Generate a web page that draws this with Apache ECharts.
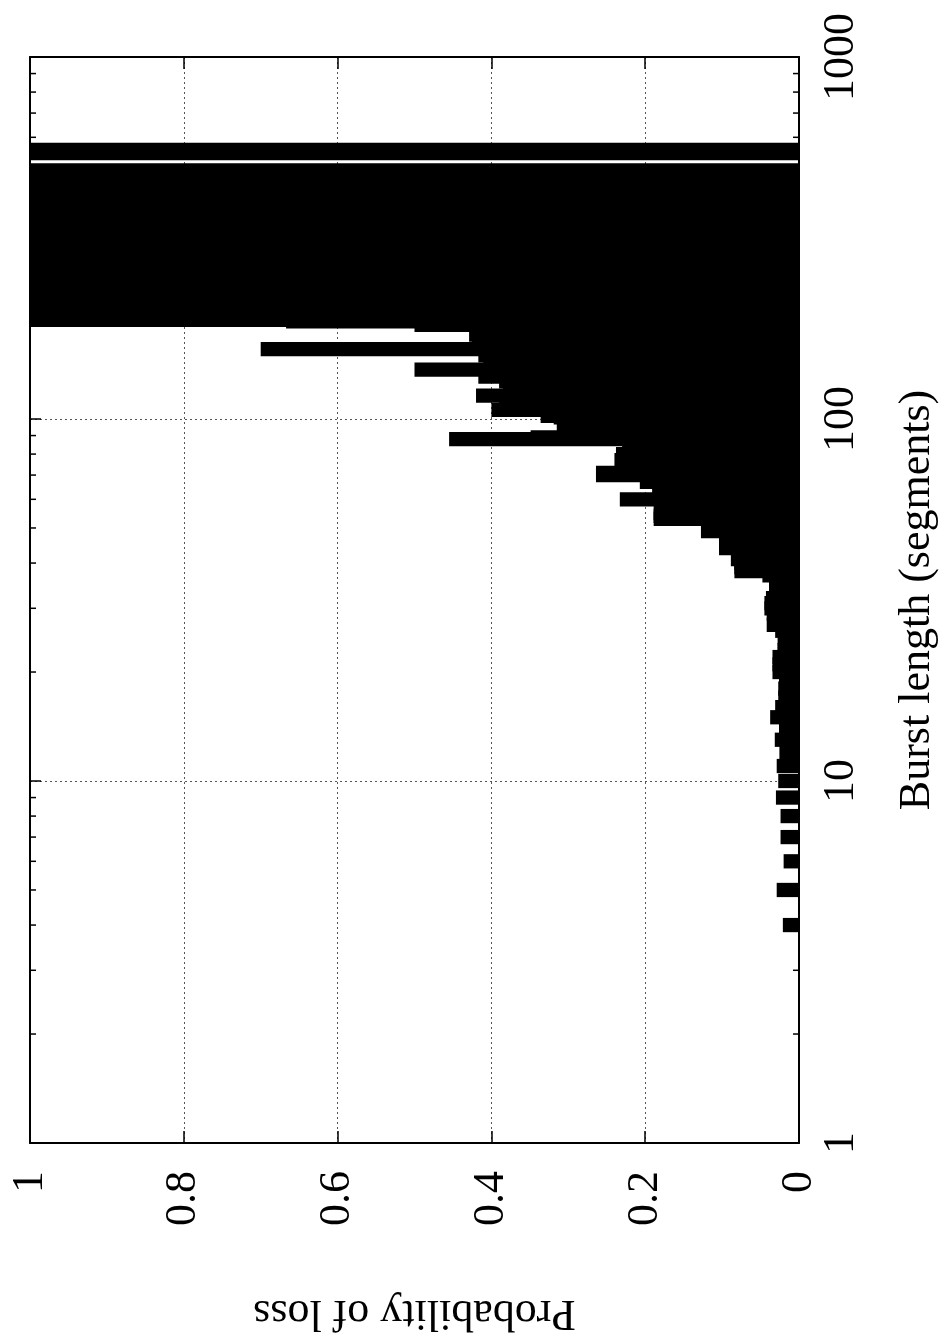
<!DOCTYPE html>
<html>
<head>
<meta charset="utf-8">
<script src="https://cdn.jsdelivr.net/npm/echarts@6/dist/echarts.min.js"></script>
<style>
  html, body { margin: 0; padding: 0; background: #fff; }
  #chart-div { width: 939px; height: 1343px; }
</style>
</head>
<body>
<div id="chart-div"></div>
<script>
// burst lengths (segments) and the probability of loss
const burstLength = [
    4, 5, 6, 7, 8, 9, 10, 11, 12, 13, 14, 15, 16, 17, 18, 19, 20,
    21, 22, 23, 24, 25, 26, 27, 28, 29, 30, 31, 32, 33, 34, 35, 36, 37, 38, 39, 40,
    41, 42, 43, 44, 45, 46, 47, 48, 49, 50, 51, 52, 53, 54, 55, 56, 57, 58, 59, 60,
    61, 62, 63, 64, 65, 66, 67, 68, 69, 70, 71, 72, 73, 74, 75, 76, 77, 78, 79, 80,
    81, 82, 83, 84, 85, 86, 87, 88, 89, 90, 91, 92, 93, 94, 95, 96, 97, 98, 99, 100,
    101, 102, 103, 104, 105, 106, 107, 108, 109, 110, 111, 112, 113, 114, 115, 116, 117, 118, 119, 120,
    121, 122, 123, 124, 125, 126, 127, 128, 129, 130, 131, 132, 133, 134, 135, 136, 137, 138, 139, 140,
    141, 142, 143, 144, 145, 146, 147, 148, 149, 150, 151, 152, 153, 154, 155, 156, 157, 158, 159, 160,
    161, 162, 163, 164, 165, 166, 167, 168, 169, 170, 171, 172, 173, 174, 175, 176, 177, 178, 179, 180,
    181, 182, 183, 184, 185, 186, 187, 188, 189, 190,
    195, 200, 205, 212, 220, 228, 236, 245, 255, 265, 276, 288, 300, 312, 325, 338,
    352, 366, 381, 396, 412, 428, 445, 463, 486, 543, 554
]
const lossProb = [
    0.021, 0.029, 0.020, 0.024, 0.024, 0.030, 0.027, 0.029, 0.0255, 0.0315, 0.026, 0.0375, 0.031, 0.027, 0.027, 0.026, 0.0345,
    0.0345, 0.0345, 0.028, 0.0276, 0.0276, 0.031, 0.042, 0.040, 0.042, 0.045, 0.045, 0.043, 0.039, 0.039, 0.038, 0.039, 0.0476, 0.084, 0.084, 0.084,
    0.0886, 0.085, 0.086, 0.104, 0.104, 0.100, 0.100, 0.104, 0.1275, 0.125, 0.120, 0.125, 0.189, 0.189, 0.189, 0.180, 0.175, 0.185, 0.185, 0.233,
    0.190, 0.185, 0.180, 0.170, 0.191, 0.185, 0.207, 0.200, 0.195, 0.264, 0.264, 0.230, 0.235, 0.220, 0.225, 0.230, 0.240, 0.235, 0.238, 0.238,
    0.220, 0.210, 0.200, 0.215, 0.220, 0.210, 0.230, 0.455, 0.349, 0.300, 0.290, 0.300, 0.310, 0.295, 0.305, 0.315, 0.310, 0.300, 0.310, 0.310,
    0.319, 0.336, 0.330, 0.320, 0.330, 0.400, 0.370, 0.380, 0.360, 0.390, 0.375, 0.385, 0.360, 0.380, 0.390, 0.420, 0.380, 0.370, 0.385, 0.370,
    0.360, 0.380, 0.375, 0.385, 0.370, 0.380, 0.390, 0.380, 0.385, 0.385, 0.417, 0.400, 0.410, 0.390, 0.405, 0.400, 0.500, 0.400, 0.410, 0.400,
    0.390, 0.410, 0.400, 0.405, 0.395, 0.410, 0.400, 0.405, 0.410, 0.417, 0.400, 0.410, 0.400, 0.405, 0.410, 0.700, 0.410, 0.420, 0.400, 0.415,
    0.420, 0.410, 0.425, 0.400, 0.420, 0.410, 0.425, 0.415, 0.420, 0.410, 0.429, 0.420, 0.410, 0.425, 0.420, 0.415, 0.425, 0.410, 0.420, 0.425,
    0.420, 0.500, 0.480, 0.490, 0.480, 0.667, 0.600, 1, 1, 1,
    1, 1, 1, 1, 1, 1, 1, 1, 1, 1, 1, 1, 1, 1, 1, 1,
    1, 1, 1, 1, 1, 1, 1, 1, 1, 1, 1
]
const minorTickValues = [2, 3, 4, 5, 6, 7, 8, 9, 20, 30, 40, 50, 60, 70, 80, 90, 200, 300, 400, 500, 600, 700, 800, 900]

const boxFactor = Math.pow(10, 0.0197) // box half width on the log axis
const font = 'Liberation Serif'

let myChart = echarts.init(document.getElementById('chart-div'), null, { renderer: 'canvas' })

const boxData = burstLength.map((len, i) => [lossProb[i], len])
const tickData = minorTickValues.map(v => [0, v])

const option = {
    animation: false,
    backgroundColor: '#fff',
    grid: { left: 30, right: 140, top: 57, bottom: 200, containLabel: false, outerBoundsMode: 'none' },
    xAxis: [{
        type: 'value', position: 'bottom', inverse: true,
        min: 0, max: 1, interval: 0.2,
        name: 'Probability of loss', nameLocation: 'middle', nameGap: 148, nameRotate: 180,
        nameTextStyle: { fontFamily: font, fontSize: 44, color: '#000' },
        axisLine: { show: true, onZero: false, lineStyle: { color: '#000', width: 2 } },
        axisTick: { show: true, inside: true, length: 12, lineStyle: { color: '#000', width: 1.5 } },
        axisLabel: { rotate: 90, margin: 28, fontFamily: font, fontSize: 44, color: '#000', hideOverlap: false },
        splitLine: { show: true, lineStyle: { color: '#555', width: 1, type: [2, 3] } }
    }, {
        type: 'value', position: 'top', inverse: true,
        min: 0, max: 1, interval: 0.2,
        axisLine: { show: true, onZero: false, lineStyle: { color: '#000', width: 2 } },
        axisTick: { show: true, inside: true, length: 12, lineStyle: { color: '#000', width: 1.5 } },
        axisLabel: { show: false },
        splitLine: { show: false }
    }],
    yAxis: [{
        type: 'log', logBase: 10, position: 'right',
        min: 1, max: 1000,
        name: 'Burst length (segments)', nameLocation: 'middle', nameGap: 96, nameRotate: 90,
        nameTextStyle: { fontFamily: font, fontSize: 44, color: '#000' },
        axisLine: { show: true, onZero: false, lineStyle: { color: '#000', width: 2 } },
        axisTick: { show: true, inside: true, length: 11, lineStyle: { color: '#000', width: 1.5 } },
        axisLabel: { rotate: 90, margin: 20, fontFamily: font, fontSize: 44, color: '#000',
            formatter: v => String(Math.round(v)) },
        splitLine: { show: true, lineStyle: { color: '#555', width: 1, type: [2, 3] } }
    }, {
        type: 'log', logBase: 10, position: 'left',
        min: 1, max: 1000,
        axisLine: { show: true, onZero: false, lineStyle: { color: '#000', width: 2 } },
        axisTick: { show: true, inside: true, length: 11, lineStyle: { color: '#000', width: 1.5 } },
        axisLabel: { show: false },
        splitLine: { show: false }
    }],
    series: [{
        name: 'loss',
        type: 'custom',
        xAxisIndex: 0,
        yAxisIndex: 0,
        clip: true,
        encode: { x: 0, y: 1 },
        data: boxData,
        renderItem: function (params, api) {
            const p = api.value(0)
            const len = api.value(1)
            const a = api.coord([0, len / boxFactor])
            const b = api.coord([p, len * boxFactor])
            return {
                type: 'rect',
                shape: {
                    x: Math.min(a[0], b[0]),
                    y: Math.min(a[1], b[1]),
                    width: Math.abs(b[0] - a[0]),
                    height: Math.abs(b[1] - a[1])
                },
                style: { fill: '#000' }
            }
        }
    }, {
        name: 'minor ticks',
        type: 'custom',
        xAxisIndex: 0,
        yAxisIndex: 0,
        silent: true,
        z: 5,
        encode: { x: 0, y: 1 },
        data: tickData,
        renderItem: function (params, api) {
            const v = api.value(1)
            const r = api.coord([0, v])
            const l = api.coord([1, v])
            const st = { stroke: '#000', lineWidth: 1.5 }
            return {
                type: 'group',
                children: [
                    { type: 'line', shape: { x1: r[0], y1: r[1], x2: r[0] - 6, y2: r[1] }, style: st },
                    { type: 'line', shape: { x1: l[0], y1: l[1], x2: l[0] + 6, y2: l[1] }, style: st }
                ]
            }
        }
    }]
}

myChart.setOption(option)
</script>
</body>
</html>
